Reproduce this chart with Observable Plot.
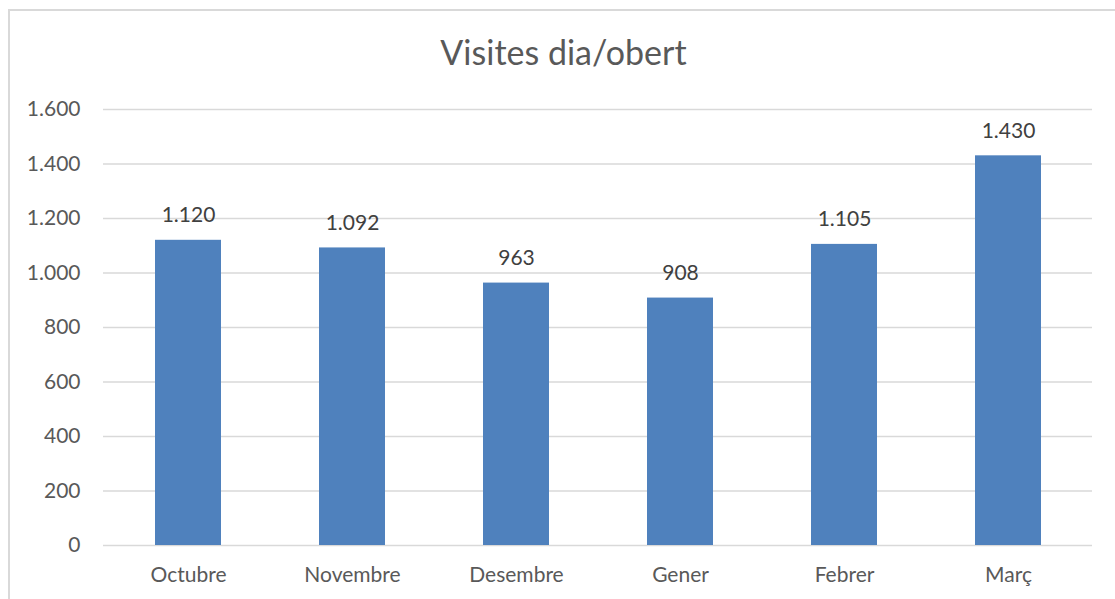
<!DOCTYPE html>
<html>
<head>
<meta charset="utf-8">
<script src="https://cdn.jsdelivr.net/npm/d3@7"></script>
<script src="https://cdn.jsdelivr.net/npm/@observablehq/plot@0.6"></script>
<style>
  html, body { margin: 0; padding: 0; background: #fff; width: 1115px; height: 599px; overflow: hidden; font-family: Lato, "Open Sans", sans-serif; }
  #frame { position: absolute; left: 8px; top: 9px; width: 1200px; height: 700px; border: 2px solid #d9d9d9; box-sizing: border-box; }
  #title { position: absolute; left: 0; top: 35px; width: 1127px; text-align: center; font-size: 34px; line-height: 34px; color: #595959; }
  #chart { position: absolute; left: 0; top: 90px; }
</style>
</head>
<body>
<div id="frame"></div>
<div id="title">Visites dia/obert</div>
<div id="chart"></div>
<script>
const months = ["Octubre", "Novembre", "Desembre", "Gener", "Febrer", "Març"];
const visits = [1120, 1092, 963, 908, 1105, 1430];
const yTicks = [0, 200, 400, 600, 800, 1000, 1200, 1400, 1600];

const fmt = d => d3.format(",")(d).replace(/,/g, ".");
const data = months.map((m, i) => ({month: m, value: visits[i]}));

const plot = Plot.plot({
  width: 1115,
  height: 509,
  marginLeft: 103,
  marginRight: 23,
  marginTop: 19,
  marginBottom: 54,
  style: {fontFamily: "Lato, 'Open Sans', sans-serif", fontSize: "21px", color: "#595959", background: "transparent"},
  x: {domain: months, paddingInner: 0.6, paddingOuter: 0.3, label: null, tickSize: 0, tickPadding: 22},
  y: {domain: [0, 1600], ticks: yTicks, tickFormat: fmt, label: null, tickSize: 0, tickPadding: 23},
  marks: [
    Plot.ruleY(yTicks, {stroke: "#d9d9d9", strokeWidth: 1.5}),
    Plot.barY(data, {x: "month", y: "value", fill: "#4F81BD"}),
    Plot.text(data, {x: "month", y: "value", text: d => fmt(d.value), lineAnchor: "bottom", dy: -18, fill: "#404040", fontSize: 21})
  ]
});
document.getElementById("chart").appendChild(plot);
</script>
</body>
</html>
